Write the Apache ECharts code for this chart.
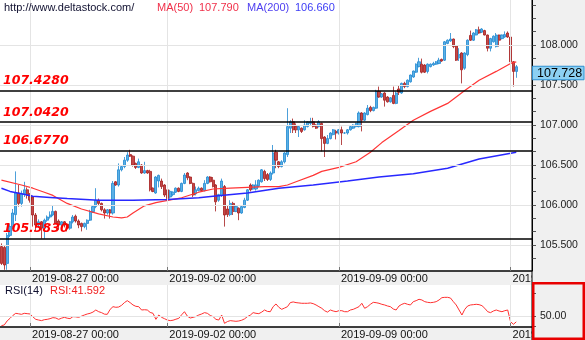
<!DOCTYPE html>
<html><head><meta charset="utf-8">
<script src="https://cdn.jsdelivr.net/npm/echarts@6/dist/echarts.min.js"></script>
<style>html,body{margin:0;padding:0;background:#fff}#c{width:585px;height:340px}</style>
</head><body><div id="c"></div>
<script>
// ---------- DATA ----------
const tickLabels = ['2019-08-27 00:00','2019-09-02 00:00','2019-09-09 00:00','2019-09-16 00:00'];
const priceLabels = [105.5,106,106.5,107,107.5,108];
const supportLevels = [107.428,107.042,106.677,105.583];
const lastPrice = 107.728;
const ma50Last = '107.790', ma200Last = '106.660', rsiLast = '41.592';
// [open, high, low, close]
const candles = [
[105.48,105.52,105.25,105.27],[105.47,105.5,105.19,105.25],[105.27,105.65,105.19,105.62],[105.62,105.76,105.6,105.73],
[105.73,105.95,105.7,105.9],[105.88,106.42,105.8,106.15],[106.15,106.25,105.98,106.02],[106.02,106.18,105.98,106.14],
[106.14,106.29,106.1,106.19],[106.19,106.22,106.08,106.12],[106.12,106.15,106.03,106.06],[106.1,106.11,105.73,105.875],
[105.875,105.9,105.67,105.75],[105.75,105.82,105.72,105.79],[105.79,105.8,105.58,105.71],[105.71,105.83,105.58,105.81],
[105.81,105.87,105.79,105.85],[105.85,105.92,105.83,105.875],[105.875,106.0,105.86,105.92],[105.92,105.93,105.76,105.77],
[105.8,105.82,105.69,105.75],[105.75,105.8,105.73,105.79],[105.79,105.8,105.72,105.75],[105.76,105.77,105.67,105.71],
[105.71,105.8,105.69,105.79],[105.79,105.875,105.77,105.85],[105.86,105.88,105.78,105.8],[105.8,105.82,105.71,105.75],
[105.77,105.78,105.67,105.73],[105.73,105.78,105.71,105.77],[105.77,105.82,105.69,105.81],[105.81,105.94,105.8,105.917],
[105.917,106.0,105.9,105.98],[105.98,106.21,105.96,106.06],[106.06,106.08,106.0,106.02],[106.02,106.03,105.92,105.94],
[105.94,105.96,105.83,105.9],[105.9,105.95,105.88,105.94],[105.94,105.95,105.83,105.9],[105.9,106.3,105.88,106.27],
[106.29,106.3,106.24,106.25],[106.25,106.52,106.23,106.44],[106.44,106.5,106.42,106.48],[106.48,106.6,106.46,106.56],
[106.56,106.66,106.54,106.625],[106.63,106.69,106.6,106.61],[106.61,106.62,106.48,106.5],[106.52,106.53,106.45,106.47],
[106.47,106.58,106.46,106.54],[106.5,106.51,106.39,106.4],[106.4,106.54,106.39,106.43],[106.43,106.44,106.39,106.4],
[106.42,106.44,106.17,106.19],[106.21,106.22,106.16,106.17],[106.15,106.36,106.14,106.35],[106.3,106.38,106.22,106.37],
[106.3,106.33,106.2,106.23],[106.25,106.26,106.1,106.125],[106.19,106.2,105.895,106.08],[106.1,106.19,106.08,106.17],
[106.13,106.17,106.11,106.16],[106.16,106.22,106.15,106.21],[106.21,106.22,106.16,106.17],[106.17,106.28,106.16,106.27],
[106.27,106.4,106.26,106.375],[106.4,106.41,106.31,106.34],[106.35,106.36,106.26,106.27],[106.27,106.28,106.1,106.125],
[106.14,106.23,106.12,106.19],[106.18,106.23,106.17,106.21],[106.21,106.22,106.17,106.18],[106.18,106.31,106.17,106.27],
[106.27,106.36,106.26,106.35],[106.35,106.36,106.28,106.29],[106.31,106.35,106.22,106.23],[106.25,106.26,105.92,106.04],
[106.06,106.14,106.04,106.13],[106.12,106.33,106.1,106.3],[106.23,106.25,105.73,105.875],[105.95,106.0,105.85,105.88],
[105.88,106.06,105.86,106.02],[106.02,106.04,105.875,105.92],[105.92,106.0,105.91,105.98],[105.96,105.97,105.81,105.9],
[105.9,106.0,105.89,105.98],[105.97,106.09,105.96,106.06],[106.06,106.2,106.05,106.19],[106.25,106.27,106.17,106.19],
[106.2,106.26,106.19,106.25],[106.2,106.31,106.18,106.25],[106.24,106.32,106.22,106.31],[106.29,106.45,106.28,106.44],
[106.42,106.44,106.3,106.33],[106.38,106.4,106.3,106.32],[106.32,106.42,106.3,106.4],[106.4,106.75,106.38,106.65],
[106.66,106.69,106.46,106.56],[106.54,106.55,106.46,106.48],[106.48,106.56,106.47,106.54],[106.54,106.66,106.52,106.65],
[106.63,107.21,106.6,106.98],[106.96,107.06,106.9,107.04],[107.04,107.08,106.9,106.94],[106.98,107.02,106.9,106.94],
[106.94,106.99,106.85,106.98],[106.96,106.97,106.9,106.92],[106.94,107.06,106.93,107.0],[106.98,107.05,106.97,107.04],
[107.02,107.09,107.0,107.04],[107.04,107.09,106.97,106.98],[107.0,107.01,106.95,106.96],[106.98,107.06,106.97,107.04],
[107.02,107.03,106.67,106.83],[106.85,106.86,106.6,106.77],[106.77,106.875,106.76,106.83],[106.83,106.91,106.82,106.9],
[106.88,106.95,106.87,106.94],[106.92,106.94,106.82,106.9],[106.9,106.95,106.88,106.94],[106.94,106.98,106.75,106.9],
[106.9,106.91,106.89,106.9],[106.9,106.95,106.88,106.94],[106.94,106.99,106.93,106.98],[106.96,107.01,106.95,107.0],
[106.98,107.03,106.97,107.02],[106.98,107.17,106.97,107.15],[107.15,107.16,106.92,107.06],[107.06,107.16,107.05,107.15],
[107.13,107.25,107.12,107.21],[107.22,107.24,107.16,107.18],[107.18,107.23,107.17,107.22],[107.21,107.44,107.2,107.42],
[107.42,107.48,107.34,107.35],[107.35,107.4,107.34,107.39],[107.4,107.41,107.23,107.31],[107.35,107.36,107.28,107.29],
[107.29,107.35,107.28,107.34],[107.37,107.48,107.26,107.27],[107.27,107.42,107.26,107.4],[107.45,107.5,107.375,107.41],
[107.4,107.53,107.39,107.52],[107.52,107.54,107.46,107.48],[107.48,107.57,107.47,107.56],[107.54,107.63,107.53,107.625],
[107.6,107.68,107.59,107.675],[107.66,107.77,107.65,107.76],[107.73,107.84,107.72,107.79],[107.76,107.83,107.645,107.66],
[107.75,107.76,107.65,107.66],[107.67,107.77,107.645,107.76],[107.73,107.77,107.72,107.76],[107.75,107.79,107.74,107.77],
[107.76,107.8,107.75,107.79],[107.77,107.84,107.76,107.81],[107.82,107.83,107.79,107.8],[107.81,108.05,107.8,108.04],
[108.02,108.07,108.01,108.06],[108.05,108.15,108.04,108.075],[108.075,108.08,107.96,107.98],[107.99,108.0,107.8,107.81],
[107.84,107.96,107.8,107.88],[107.9,107.91,107.52,107.69],[107.71,107.91,107.69,107.9],[107.88,108.07,107.86,108.06],
[108.12,108.18,108.05,108.06],[108.06,108.16,108.05,108.15],[108.125,108.2,108.12,108.19],[108.19,108.23,108.14,108.15],
[108.16,108.21,108.15,108.2],[108.18,108.19,108.12,108.125],[108.125,108.13,107.92,107.96],[107.96,108.09,107.92,108.08],
[108.04,108.12,108.03,108.11],[107.98,108.15,107.97,108.125],[108.125,108.13,107.98,108.06],[108.08,108.13,108.07,108.125],
[108.1,108.17,108.09,108.13],[108.15,108.17,108.09,108.1],[108.1,108.11,107.43,107.79],[107.79,107.8,107.48,107.67],
[107.67,107.75,107.59,107.728]
];
// moving averages: [bar index, value]
const ma50 = [[0,106.31],[7,106.25],[11,106.21],[15,106.16],[18,106.12],[23,106.02],[28,105.95],[34,105.89],[39,105.85],
[42,105.84],[44,105.85],[46,105.9],[50,105.99],[54,106.03],[60,106.07],[63,106.09],[69,106.16],[74,106.2],[80,106.21],
[86,106.22],[92,106.23],[97,106.23],[100,106.25],[103,106.29],[109,106.37],[112,106.42],[118,106.47],[124,106.54],
[129,106.66],[133,106.78],[139,106.93],[144,107.06],[150,107.17],[156,107.27],[162,107.43],[167,107.56],[173,107.67],
[178,107.77],[180,107.79]];
const ma200 = [[0,106.21],[3,106.17],[7,106.14],[11,106.11],[17,106.095],[23,106.08],[34,106.06],[46,106.06],[58,106.07],
[69,106.09],[74,106.11],[86,106.15],[97,106.21],[109,106.25],[121,106.3],[132,106.35],[144,106.39],[156,106.46],
[167,106.575],[180,106.66]];
const rsi = [36,37,43,46.8,51,54.2,53.5,52.7,54.2,53.7,53.2,49,45.3,44.3,43.4,44.8,45.3,46.3,47.8,47.3,
45.3,47,48.3,47,46.3,49.3,49,48.3,50,51.7,53.2,54.2,56,59.1,56.6,55.2,53,52.7,60,64,
63.1,63.5,66,70,72.9,70,66.5,64.5,64,59.1,59.5,59.1,55.5,54.2,45.3,51.7,48.3,46.3,44.3,43.4,
44,45.5,46.8,52,56.6,50,47.3,48.3,49.5,51.7,53.2,55.2,54.2,51,49.3,45.3,44.3,51.7,39.4,42,
43.4,42.9,42.4,42.9,44,46,49.3,51.5,55.2,54.2,53.7,56,59.1,57,56.6,64,68,63,60.1,62,
64,70,71,70,69.5,69,69,69,69.5,68.5,66.5,64,61.6,58,56,59.1,57.6,56.6,58.1,58.1,
56.6,56.6,59.1,60.1,62,64,69,61.6,64,67.5,70.4,69.9,69,67.5,66.5,65,64,60.6,59.1,65,
67.5,69,67.5,66.5,71.4,72.9,74.9,73.9,71.4,70.4,69.9,70.4,71.4,73.9,77.3,77.8,77.8,76.8,71.4,66.5,
59.1,51.7,60.1,65,66.5,67,67.5,67,65.5,61.6,56.6,55.2,57.6,59.1,57.6,56.6,58.1,59.1,41.9,38,41.592];

// ---------- CATEGORIES (2-hour bars, weekends skipped) ----------
const categories = [];
(function(){
  let t = Date.UTC(2019,7,26,4);
  const p = n => (n<10?'0':'')+n;
  while (categories.length < candles.length + 5) {
    const d = new Date(t), wd = d.getUTCDay();
    if (wd !== 0 && wd !== 6) categories.push(d.getUTCFullYear()+'-'+p(d.getUTCMonth()+1)+'-'+p(d.getUTCDate())+' '+p(d.getUTCHours())+':00');
    t += 7200000;
  }
})();
const isTick = (i, v) => tickLabels.indexOf(v) >= 0;
const minorTicks = [];
for (let k = 632; k <= 651; k++) minorTicks.push(k/6);

const chart = echarts.init(document.getElementById('c'), null, {renderer:'canvas'});
const FONT = 'Liberation Sans';
function xAx(gi){
  return {type:'category', gridIndex:gi, data:categories, boundaryGap:true, z:5,
    axisLine:{show:true, onZero:false, lineStyle:{color:'#000', width:1.5}},
    axisTick:{show:true, inside:true, length:4, alignWithLabel:true, interval:isTick, lineStyle:{color:'#777'}},
    axisLabel:{show:true, interval:isTick, align:'left', margin:2, padding:[0,0,0,2], fontFamily:FONT, fontSize:11, color:'#111'},
    splitLine:{show:true, interval:isTick, alignWithLabel:true, lineStyle:{color:'#e4e4e4', width:1}}};
}
const option = {
  animation:false,
  grid:[{left:0, top:0, width:532, height:271, containLabel:false, outerBoundsMode:'none'},
        {left:0, top:285, width:532, height:42, containLabel:false, outerBoundsMode:'none'}],
  xAxis:[xAx(0), xAx(1)],
  yAxis:[
    {type:'value', gridIndex:0, position:'right', min:105.175, max:108.5625, z:8,
     axisLine:{show:true, lineStyle:{color:'#000', width:1}},
     axisTick:{show:true, length:4, customValues:minorTicks, lineStyle:{color:'#555'}},
     axisLabel:{show:true, customValues:priceLabels, formatter:v=>v.toFixed(3), margin:8, fontFamily:FONT, fontSize:10.5, color:'#1a1a1a'},
     splitLine:{show:false}},
    {type:'value', gridIndex:1, position:'right', min:34, max:96, z:8,
     axisLine:{show:true, lineStyle:{color:'#000', width:1}},
     axisTick:{show:true, length:4, customValues:[34.5,50,84], lineStyle:{color:'#555'}},
     axisLabel:{show:true, customValues:[50], formatter:v=>v.toFixed(2), margin:8, fontFamily:FONT, fontSize:10.5, color:'#1a1a1a'},
     splitLine:{show:false}}
  ],
  series:[
    {type:'line', xAxisIndex:0, yAxisIndex:0, data:[], z:1, silent:true,
     markLine:{silent:true, symbol:['none','none'], label:{show:false}, lineStyle:{color:'#e4e4e4', width:1, type:'solid'},
       data: priceLabels.map(v=>({yAxis:v}))}},
    {type:'line', xAxisIndex:1, yAxisIndex:1, data:[], z:1, silent:true,
     markLine:{silent:true, symbol:['none','none'], label:{show:false}, lineStyle:{color:'#e4e4e4', width:1, type:'solid'},
       data:[{yAxis:50}]}},
    {type:'candlestick', xAxisIndex:0, yAxisIndex:0, z:2, barWidth:2.6,
     data: candles.map(c=>[c[0],c[3],c[2],c[1]]),
     itemStyle:{color:'#5ab0e6', color0:'#c44848', borderColor:'#1f88d0', borderColor0:'#a51c1c', borderWidth:0.8},
     markLine:{silent:true, symbol:['none','none'], lineStyle:{color:'#000', width:1.5, type:'solid'},
       label:{show:true, position:'insideStartTop', distance:[3,3], color:'#ff0000', fontFamily:'DejaVu Sans', fontWeight:'bold', fontStyle:'italic', fontSize:12.5},
       data: supportLevels.map(v=>({yAxis:v, label:{formatter:v.toFixed(4)}}))}},
    {type:'line', xAxisIndex:0, yAxisIndex:0, data:ma50, showSymbol:false, z:3, lineStyle:{color:'#ff3535', width:1.2}},
    {type:'line', xAxisIndex:0, yAxisIndex:0, data:ma200, showSymbol:false, z:3, lineStyle:{color:'#2828ff', width:1.5}},
    {type:'line', xAxisIndex:1, yAxisIndex:1, data:rsi, showSymbol:false, z:3, lineStyle:{color:'#ff3030', width:1}}
  ],
  graphic:[
    {id:'band1', type:'rect', z:1, shape:{x:0,y:271,width:532,height:14}, style:{fill:'#f0f0f0'}},
    {id:'band2', type:'rect', z:1, shape:{x:0,y:327,width:532,height:13}, style:{fill:'#f0f0f0'}},
    {id:'panel', type:'rect', z:6, shape:{x:532,y:0,width:53,height:340}, style:{fill:'#f0f0f0'}},
    {id:'vline', type:'line', z:9, shape:{x1:532,y1:0,x2:532,y2:340}, style:{stroke:'#000', lineWidth:1}},
    {id:'rsibox', type:'rect', z:12, shape:{x:533.25,y:283.25,width:50.5,height:55.5}, style:{fill:'none', stroke:'#e80000', lineWidth:2.5}},
    {id:'t1', type:'text', z:12, x:4, y:8, style:{text:'http://www.deltastock.com/', fill:'#101030', font:'11px "Liberation Sans"', verticalAlign:'middle'}},
    {id:'t2', type:'text', z:12, x:157, y:8, style:{text:'MA(50)', fill:'#f0304a', font:'11px "Liberation Sans"', verticalAlign:'middle'}},
    {id:'t3', type:'text', z:12, x:199, y:8, style:{text:ma50Last, fill:'#f0304a', font:'11px "Liberation Sans"', verticalAlign:'middle'}},
    {id:'t4', type:'text', z:12, x:247, y:8, style:{text:'MA(200)', fill:'#5040f0', font:'11px "Liberation Sans"', verticalAlign:'middle'}},
    {id:'t5', type:'text', z:12, x:295, y:8, style:{text:ma200Last, fill:'#3c3cf5', font:'11px "Liberation Sans"', verticalAlign:'middle'}},
    {id:'t6', type:'text', z:12, x:5, y:291, style:{text:'RSI(14)', fill:'#101030', font:'11px "Liberation Sans"', verticalAlign:'middle'}},
    {id:'t7', type:'text', z:12, x:50, y:291, style:{text:'RSI:'+rsiLast, fill:'#f02020', font:'11px "Liberation Sans"', verticalAlign:'middle'}}
  ]
};
chart.setOption(option);
const py = chart.convertToPixel({yAxisIndex:0}, lastPrice);
chart.setOption({graphic:[
  {id:'pbox', type:'rect', z:13, shape:{x:532.5,y:py-0.5,width:51.5,height:13.5}, style:{fill:'#8cd0f3', stroke:'#2e8fd0', lineWidth:1}},
  {id:'ptxt', type:'text', z:14, x:537, y:py+6.5, style:{text:lastPrice.toFixed(3), fill:'#000', font:'12.5px "Liberation Sans"', verticalAlign:'middle'}}
]});
</script></body></html>
